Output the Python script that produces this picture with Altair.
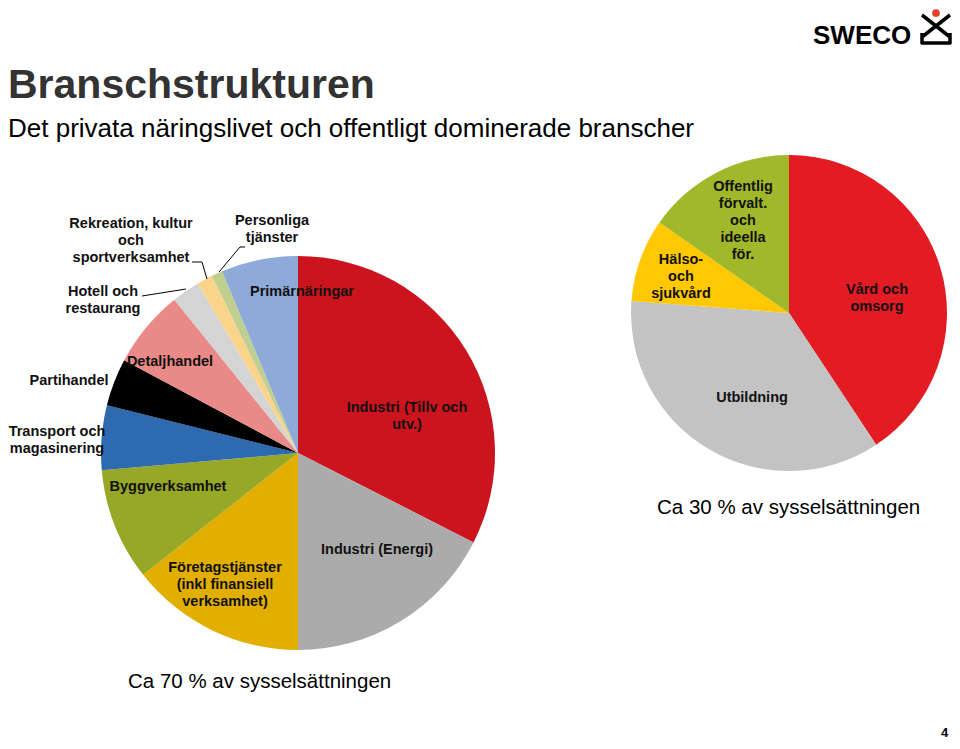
import altair as alt
import pandas as pd

# ---------------- data ----------------
left_cats = [
    "Industri (Tillv och utv.)", "Industri (Energi)", "Företagstjänster",
    "Byggverksamhet", "Transport och magasinering", "Partihandel",
    "Detaljhandel", "Hotell och restaurang", "Rekreation, kultur och sportverksamhet",
    "Personliga tjänster", "Primärnäringar",
]
left_vals = [32.5, 17.5, 14.4, 9.2, 5.3, 3.9, 6.4, 2.3, 1.3, 0.9, 6.3]
left_colors = ["#CC141E", "#ABABAB", "#E2AF00", "#97A726", "#2D6AB0", "#000000",
               "#E98A88", "#D4D4D4", "#F9D48A", "#BFCF8F", "#8EAAD9"]

right_cats = ["Vård och omsorg", "Utbildning", "Hälso- och sjukvård",
              "Offentlig förvalt. och ideella för."]
right_vals = [40.7, 35.5, 8.5, 15.3]
right_colors = ["#E31B23", "#C3C3C3", "#FFC800", "#A2B82B"]

title = "Branschstrukturen"
subtitle = "Det privata näringslivet och offentligt dominerade branscher"
left_note = "Ca 70 % av sysselsättningen"
right_note = "Ca 30 % av sysselsättningen"

# ---------------- layout (page coords, 8px margin removed below) ----------------
M = 8
W, H = 944, 733
FONT = "Liberation Sans"

def P(v):
    return v - M

left_df = pd.DataFrame({"cat": left_cats, "value": left_vals,
                        "idx": list(range(len(left_cats)))})
right_df = pd.DataFrame({"cat": right_cats, "value": right_vals,
                         "idx": list(range(len(right_cats)))})

left_pie = alt.Chart(left_df).mark_arc(outerRadius=197, stroke=None).encode(
    theta=alt.Theta("value:Q", stack=True, scale=alt.Scale(domain=[0, 100])),
    color=alt.Color("cat:N", scale=alt.Scale(domain=left_cats, range=left_colors), legend=None),
    order=alt.Order("idx:Q"),
    x=alt.value(P(298)), y=alt.value(P(453)),
)

right_pie = alt.Chart(right_df).mark_arc(outerRadius=158, stroke=None).encode(
    theta=alt.Theta("value:Q", stack=True, scale=alt.Scale(domain=[0, 100])),
    color=alt.Color("cat:N", scale=alt.Scale(domain=right_cats, range=right_colors), legend=None),
    order=alt.Order("idx:Q"),
    x=alt.value(P(789)), y=alt.value(P(313)),
)

# slice labels (annotation positions: centre x, first-line y)
labels = [
    (["Rekreation, kultur", "och", "sportverksamhet"], 131, 224),
    (["Personliga", "tjänster"], 272, 221),
    (["Hotell och", "restaurang"], 103, 292),
    (["Primärnäringar"], 302, 292),
    (["Detaljhandel"], 170, 362),
    (["Partihandel"], 69, 381),
    (["Transport och", "magasinering"], 57, 432),
    (["Industri (Tillv och", "utv.)"], 407, 408),
    (["Byggverksamhet"], 168, 487),
    (["Företagstjänster", "(inkl finansiell", "verksamhet)"], 225, 568),
    (["Industri (Energi)"], 377, 550),
    (["Offentlig", "förvalt.", "och", "ideella", "för."], 743, 187),
    (["Hälso-", "och", "sjukvård"], 681, 260),
    (["Vård och", "omsorg"], 877, 290),
    (["Utbildning"], 752, 398),
]
lab_df = pd.DataFrame({
    "text": [l[0] for l in labels],
    "x": [P(l[1]) for l in labels],
    "y": [P(l[2]) for l in labels],
})
label_layer = alt.Chart(lab_df).mark_text(
    font=FONT, fontSize=14.5, fontWeight="bold", color="#111111",
    align="center", baseline="middle", lineHeight=17,
).encode(x=alt.X("x:Q", scale=None), y=alt.Y("y:Q", scale=None), text="text")

# leader lines
segs = [(192, 262, 202, 262), (202, 262, 207, 279),
        (245, 247, 240, 247), (240, 247, 219, 272),
        (142, 296, 186, 289)]
seg_df = pd.DataFrame({
    "x": [P(s[0]) for s in segs], "y": [P(s[1]) for s in segs],
    "x2": [P(s[2]) for s in segs], "y2": [P(s[3]) for s in segs],
})
leader = alt.Chart(seg_df).mark_rule(color="#000000", strokeWidth=1).encode(
    x=alt.X("x:Q", scale=None), y=alt.Y("y:Q", scale=None),
    x2="x2:Q", y2="y2:Q",
)

# titles and notes
def txt(s, x, y, size, weight="normal", color="#000000", align="left", baseline="alphabetic"):
    return alt.Chart(pd.DataFrame({"t": [s]})).mark_text(
        font=FONT, fontSize=size, fontWeight=weight, color=color,
        align=align, baseline=baseline,
    ).encode(x=alt.value(P(x)), y=alt.value(P(y)), text="t:N")

title_l = txt(title, 8, 98, 41, "bold", "#333333")
sub_l = txt(subtitle, 8, 137, 26, "normal", "#000000")
note_l = txt(left_note, 128, 688, 20.5)
note_r = txt(right_note, 657, 514, 20.5)
page_no = txt("4", 941, 737, 13, "bold")
logo_t = txt("SWECO", 813, 44, 26, "bold")

# logo symbol
logo_segs = [(922, 15, 950, 37), (950, 15, 922, 37),
             (922, 33, 922, 44), (950, 33, 950, 44), (921, 43, 951, 43)]
lg_df = pd.DataFrame({
    "x": [P(s[0]) for s in logo_segs], "y": [P(s[1]) for s in logo_segs],
    "x2": [P(s[2]) for s in logo_segs], "y2": [P(s[3]) for s in logo_segs],
})
logo_lines = alt.Chart(lg_df).mark_rule(color="#000000", strokeWidth=3.5).encode(
    x=alt.X("x:Q", scale=None), y=alt.Y("y:Q", scale=None),
    x2="x2:Q", y2="y2:Q",
)
logo_dot = alt.Chart(pd.DataFrame({"a": [1]})).mark_circle(
    color="#E8402A", opacity=1, size=60
).encode(x=alt.value(P(936)), y=alt.value(P(13)))

chart = alt.layer(
    left_pie, right_pie, label_layer, leader,
    title_l, sub_l, note_l, note_r, page_no, logo_t, logo_lines, logo_dot,
).resolve_scale(theta="independent", color="independent").properties(
    width=W, height=H, padding=0,
    autosize=alt.AutoSizeParams(type="none"),
    background="#FFFFFF",
).configure_view(strokeWidth=0)

chart.save("out.html", embed_options={"renderer": "svg", "actions": False})
